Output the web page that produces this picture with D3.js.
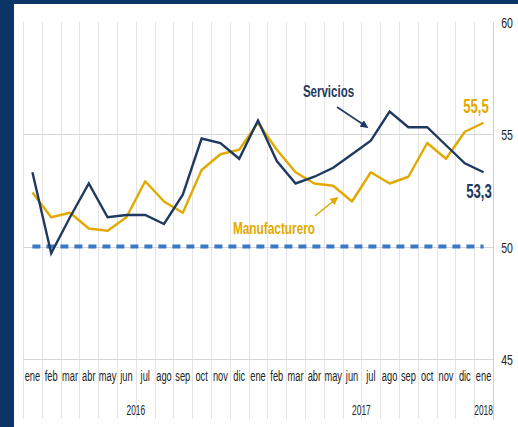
<!DOCTYPE html>
<html><head><meta charset="utf-8">
<script src="https://cdn.jsdelivr.net/npm/d3@7"></script>
<style>body{margin:0;background:#fff}svg{display:block}text{font-family:"Liberation Sans",Arial,sans-serif}</style>
</head><body>
<script>
const months = ["ene","feb","mar","abr","may","jun","jul","ago","sep","oct","nov","dic",
                "ene","feb","mar","abr","may","jun","jul","ago","sep","oct","nov","dic","ene"];
const years = [{label:"2016",from:0,to:11},{label:"2017",from:12,to:23},{label:"2018",from:24,to:24}];
const servicios = [53.3,49.7,51.3,52.8,51.3,51.4,51.4,51.0,52.3,54.8,54.6,53.9,
                   55.6,53.8,52.8,53.1,53.5,54.1,54.7,56.0,55.3,55.3,54.5,53.7,53.3];
const manufacturero = [52.4,51.3,51.5,50.8,50.7,51.3,52.9,52.0,51.5,53.4,54.1,54.3,
                       55.5,54.3,53.3,52.8,52.7,52.0,53.3,52.8,53.1,54.6,53.9,55.1,55.5];
const umbral = months.map(() => 50);
const yTicks = [45,50,55,60];

const W = 518, H = 427;
const svg = d3.select("body").append("svg").attr("width", W).attr("height", H);

function narrow(sel, px, py, sx) {
  sel.attr("x", 0).attr("y", 0)
     .attr("transform", function(d, i) {
       const X = typeof px === "function" ? px(d, i) : px;
       const Y = typeof py === "function" ? py(d, i) : py;
       return `translate(${X},${Y}) scale(${sx},1)`;
     });
  return sel;
}

// frame
svg.append("rect").attr("x",0).attr("y",0).attr("width",14).attr("height",H).attr("fill","#0b3566");
svg.append("rect").attr("x",0).attr("y",0).attr("width",W).attr("height",4).attr("fill","#0b3566");

const idx = months.map((_, i) => i);
const x = d3.scaleBand().domain(idx).range([23, 493]).padding(0);
const y = d3.scaleLinear().domain([45, 60]).range([359, 21.5]);
const cx = i => x(i) + x.bandwidth() / 2;

// vertical separators
svg.append("g").selectAll("line").data(d3.range(months.length)).join("line")
  .attr("x1", i => Math.round(x(i)) + 0.5).attr("x2", i => Math.round(x(i)) + 0.5)
  .attr("y1", 22).attr("y2", 419)
  .attr("stroke", "#e4e4e4").attr("stroke-width", 1);
svg.append("line").attr("x1",493.5).attr("x2",493.5).attr("y1",22).attr("y2",420)
  .attr("stroke","#cfcfcf");

// horizontal gridlines
svg.append("g").selectAll("line").data(yTicks.filter(t => t < 60)).join("line")
  .attr("x1", 23).attr("x2", 493)
  .attr("y1", d => Math.round(y(d)) + 0.5).attr("y2", d => Math.round(y(d)) + 0.5)
  .attr("stroke", "#d6d6d6").attr("stroke-width", 1.2);

// right axis labels
const yAxis = d3.axisRight(y).tickValues(yTicks).tickSize(0).tickPadding(0);
const ga = svg.append("g").call(yAxis);
ga.select(".domain").remove();
ga.selectAll(".tick").attr("transform", null);
narrow(ga.selectAll(".tick text"), 507, d => y(d) + 6, 0.7)
  .attr("dy", null).attr("text-anchor","middle")
  .attr("font-size", 15).attr("fill", "#222")
  .attr("font-family", '"Liberation Sans",Arial,sans-serif');

// month labels
narrow(svg.append("g").selectAll("text").data(idx).join("text"), i => cx(i), 381, 0.64)
  .attr("text-anchor", "middle").attr("font-size", 14.5).attr("fill", "#222")
  .text(i => months[i]);
// year labels
narrow(svg.append("g").selectAll("text").data(years).join("text"),
       d => (cx(d.from) + cx(d.to)) / 2, 415, 0.6)
  .attr("text-anchor", "middle").attr("font-size", 14).attr("fill", "#222")
  .text(d => d.label);

// lines
const line = d3.line().x((d, i) => cx(i)).y(d => y(d));
svg.append("path").datum(umbral).attr("d", line).attr("fill","none")
  .attr("stroke","#3a78c8").attr("stroke-width",4).attr("stroke-dasharray","8,6");
svg.append("path").datum(manufacturero).attr("d", line).attr("fill","none")
  .attr("stroke","#e2a900").attr("stroke-width",2.4).attr("stroke-linejoin","round");
svg.append("path").datum(servicios).attr("d", line).attr("fill","none")
  .attr("stroke","#1f3a60").attr("stroke-width",2.4).attr("stroke-linejoin","miter");

// arrows
const defs = svg.append("defs");
[["an","#1f3a60"],["ag","#e2a900"]].forEach(([id,c]) => {
  defs.append("marker").attr("id", id).attr("viewBox","0 0 10 10").attr("refX",8).attr("refY",5)
    .attr("markerWidth",5).attr("markerHeight",5).attr("orient","auto")
    .append("path").attr("d","M0,0 L10,5 L0,10 Z").attr("fill", c);
});
svg.append("line").attr("x1",337).attr("y1",107).attr("x2",367).attr("y2",127)
  .attr("stroke","#1f3a60").attr("stroke-width",1.6).attr("marker-end","url(#an)");
svg.append("line").attr("x1",315).attr("y1",216).attr("x2",337).attr("y2",198)
  .attr("stroke","#e2a900").attr("stroke-width",1.6).attr("marker-end","url(#ag)");

// annotations
narrow(svg.append("text"), 328.5, 97, 0.72).attr("text-anchor","middle")
  .attr("font-size",16).attr("font-weight","bold").attr("fill","#1f3a60").text("Servicios");
narrow(svg.append("text"), 274, 234, 0.74).attr("text-anchor","middle")
  .attr("font-size",16).attr("font-weight","bold").attr("fill","#e2a900").text("Manufacturero");
narrow(svg.append("text"), 476, 113, 0.66).attr("text-anchor","middle")
  .attr("font-size",20).attr("font-weight","bold").attr("fill","#e2a900")
  .text(String(manufacturero[manufacturero.length-1]).replace(".",","));
narrow(svg.append("text"), 479, 198, 0.66).attr("text-anchor","middle")
  .attr("font-size",20).attr("font-weight","bold").attr("fill","#1f3a60")
  .text(String(servicios[servicios.length-1]).replace(".",","));
</script>
</body></html>
